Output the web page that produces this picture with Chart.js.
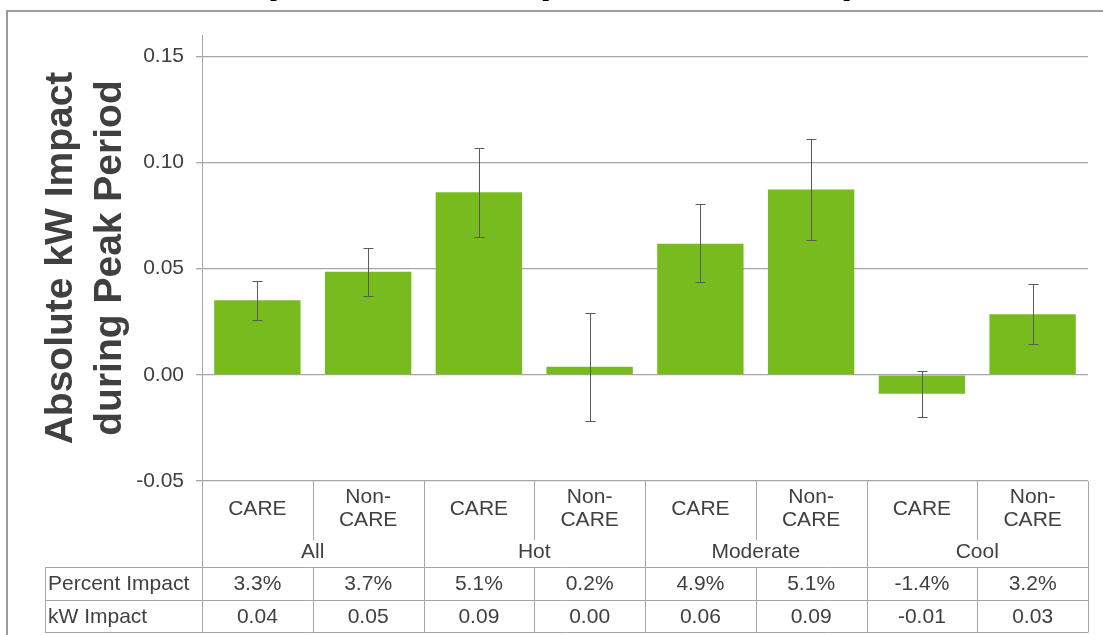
<!DOCTYPE html>
<html>
<head>
<meta charset="utf-8">
<script src="https://cdn.jsdelivr.net/npm/chart.js@4.4.1/dist/chart.umd.min.js"></script>
<style>
  html, body { margin: 0; padding: 0; background: #fff; overflow: hidden; }
  #wrap { position: relative; width: 1103px; height: 635px; overflow: hidden; }
  #frame { position: absolute; left: 6px; top: 10px; width: 1200px; height: 700px;
           border-left: 2px solid #9b9b9b; border-top: 2px solid #9b9b9b; }
  #title { position: absolute; left: 0; width: 1120px; top: -44px; text-align: center;
           font: bold 43px 'Liberation Sans', Arial, sans-serif; line-height: 43px;
           color: #000; white-space: nowrap; }
  canvas { position: absolute; left: 0; top: 0; }
</style>
</head>
<body>
<div id="wrap">
  <div id="title">(Statewide Impact Estimates)</div>
  <div id="frame"></div>
  <canvas id="impactChart" width="1103" height="635"></canvas>
</div>
<script>
// bars, left to right
const subLabels = [['CARE'], ['Non-', 'CARE'], ['CARE'], ['Non-', 'CARE'],
                   ['CARE'], ['Non-', 'CARE'], ['CARE'], ['Non-', 'CARE']];
const groups = ['All', 'Hot', 'Moderate', 'Cool'];
const kwImpact = [0.0351, 0.0485, 0.0859, 0.0038, 0.0617, 0.0873, -0.0089, 0.0285];
const ciLow = [0.0260, 0.0370, 0.0648, -0.0216, 0.0435, 0.0634, -0.0200, 0.0146];
const ciHigh = [0.0444, 0.0598, 0.1069, 0.0293, 0.0803, 0.1108, 0.0017, 0.0427];

// data table under the chart
const rowLabels = ['Percent Impact', 'kW Impact'];
const percentImpact = ['3.3%', '3.7%', '5.1%', '0.2%', '4.9%', '5.1%', '-1.4%', '3.2%'];
const kwImpactText = ['0.04', '0.05', '0.09', '0.00', '0.06', '0.09', '-0.01', '0.03'];

const yAxisTitle = ['Absolute kW Impact', 'during Peak Period'];

const FONT = "'Liberation Sans', Arial, sans-serif";
const TEXT = '#404040';
const LINE = '#a6a6a6';

const crisp = v => Math.round(v) + 0.5;

const errorBars = {
  id: 'errorBars',
  afterDatasetsDraw(chart) {
    const { ctx, scales: { x, y } } = chart;
    ctx.save();
    ctx.strokeStyle = '#5a5a5a';
    ctx.lineWidth = 1;
    kwImpact.forEach((v, i) => {
      const cx = crisp(x.getPixelForValue(i));
      const top = crisp(y.getPixelForValue(ciHigh[i]));
      const bot = crisp(y.getPixelForValue(ciLow[i]));
      ctx.beginPath();
      ctx.moveTo(cx, top); ctx.lineTo(cx, bot);
      ctx.moveTo(cx - 5, top); ctx.lineTo(cx + 5, top);
      ctx.moveTo(cx - 5, bot); ctx.lineTo(cx + 5, bot);
      ctx.stroke();
    });
    ctx.restore();
  }
};

const tableAndLabels = {
  id: 'tableAndLabels',
  afterDraw(chart) {
    const { ctx, chartArea: area, scales: { x } } = chart;
    const step = x.getPixelForValue(1) - x.getPixelForValue(0);
    const edge = k => x.getPixelForValue(0) + (k - 0.5) * step;
    const yTop = area.bottom;
    const yInner = yTop + 59;
    const yRow = yTop + 86;
    const rowH = 32.5;
    const tableLeft = 45;
    const n = kwImpact.length;

    ctx.save();
    ctx.strokeStyle = LINE;
    ctx.lineWidth = 1;
    ctx.beginPath();
    for (let k = 0; k <= n; k++) {
      const ex = crisp(edge(k));
      if (k % 2 === 0) {
        ctx.moveTo(ex, yTop); ctx.lineTo(ex, yRow + 2 * rowH);
      } else {
        ctx.moveTo(ex, yTop); ctx.lineTo(ex, yInner);
        ctx.moveTo(ex, yRow); ctx.lineTo(ex, yRow + 2 * rowH);
      }
    }
    ctx.moveTo(crisp(tableLeft), yRow); ctx.lineTo(crisp(tableLeft), yRow + 2 * rowH);
    for (let r = 0; r <= 2; r++) {
      const ly = crisp(yRow + r * rowH);
      ctx.moveTo(tableLeft, ly); ctx.lineTo(crisp(edge(n)), ly);
    }
    ctx.stroke();

    ctx.fillStyle = TEXT;
    ctx.font = '21px ' + FONT;
    ctx.textAlign = 'center';
    ctx.textBaseline = 'middle';
    subLabels.forEach((lines, i) => {
      const cx = x.getPixelForValue(i);
      if (lines.length === 1) {
        ctx.fillText(lines[0], cx, yTop + 28);
      } else {
        ctx.fillText(lines[0], cx, yTop + 16);
        ctx.fillText(lines[1], cx, yTop + 39);
      }
    });
    groups.forEach((g, j) => {
      ctx.fillText(g, (edge(2 * j) + edge(2 * j + 2)) / 2, yTop + 71);
    });
    [percentImpact, kwImpactText].forEach((row, r) => {
      const cy = yRow + r * rowH + rowH / 2 + 1;
      row.forEach((t, i) => ctx.fillText(t, x.getPixelForValue(i), cy));
    });
    ctx.textAlign = 'left';
    rowLabels.forEach((t, r) => ctx.fillText(t, tableLeft + 3, yRow + r * rowH + rowH / 2 + 1));

    // rotated axis title, two lines
    ctx.font = 'bold 39px ' + FONT;
    ctx.textAlign = 'center';
    ctx.textBaseline = 'alphabetic';
    const midY = (area.top + area.bottom) / 2;
    [72, 121].forEach((bx, l) => {
      ctx.save();
      ctx.translate(bx, midY);
      ctx.rotate(-Math.PI / 2);
      ctx.fillText(yAxisTitle[l], 0, 0);
      ctx.restore();
    });
    ctx.restore();
  }
};

new Chart(document.getElementById('impactChart').getContext('2d'), {
  type: 'bar',
  data: {
    labels: subLabels.map(l => l.join('')),
    datasets: [{
      data: kwImpact,
      backgroundColor: '#77bb1f',
      borderWidth: 0,
      barPercentage: 0.78,
      categoryPercentage: 1
    }]
  },
  options: {
    responsive: false,
    animation: false,
    devicePixelRatio: 1,
    layout: { padding: { top: 35, right: 15, bottom: 154, left: 0 } },
    plugins: { legend: { display: false }, tooltip: { enabled: false } },
    scales: {
      x: { display: false },
      y: {
        min: -0.05,
        max: 0.16,
        afterFit(scale) { scale.width = 202; },
        border: { display: true, color: LINE, width: 1 },
        grid: { color: LINE, lineWidth: 1.3, tickLength: 6, tickColor: LINE },
        ticks: {
          stepSize: 0.05,
          includeBounds: false,
          padding: 12,
          color: '#404040',
          font: { family: FONT, size: 21 },
          callback: v => v.toFixed(2)
        }
      }
    }
  },
  plugins: [errorBars, tableAndLabels]
});
</script>
</body>
</html>
